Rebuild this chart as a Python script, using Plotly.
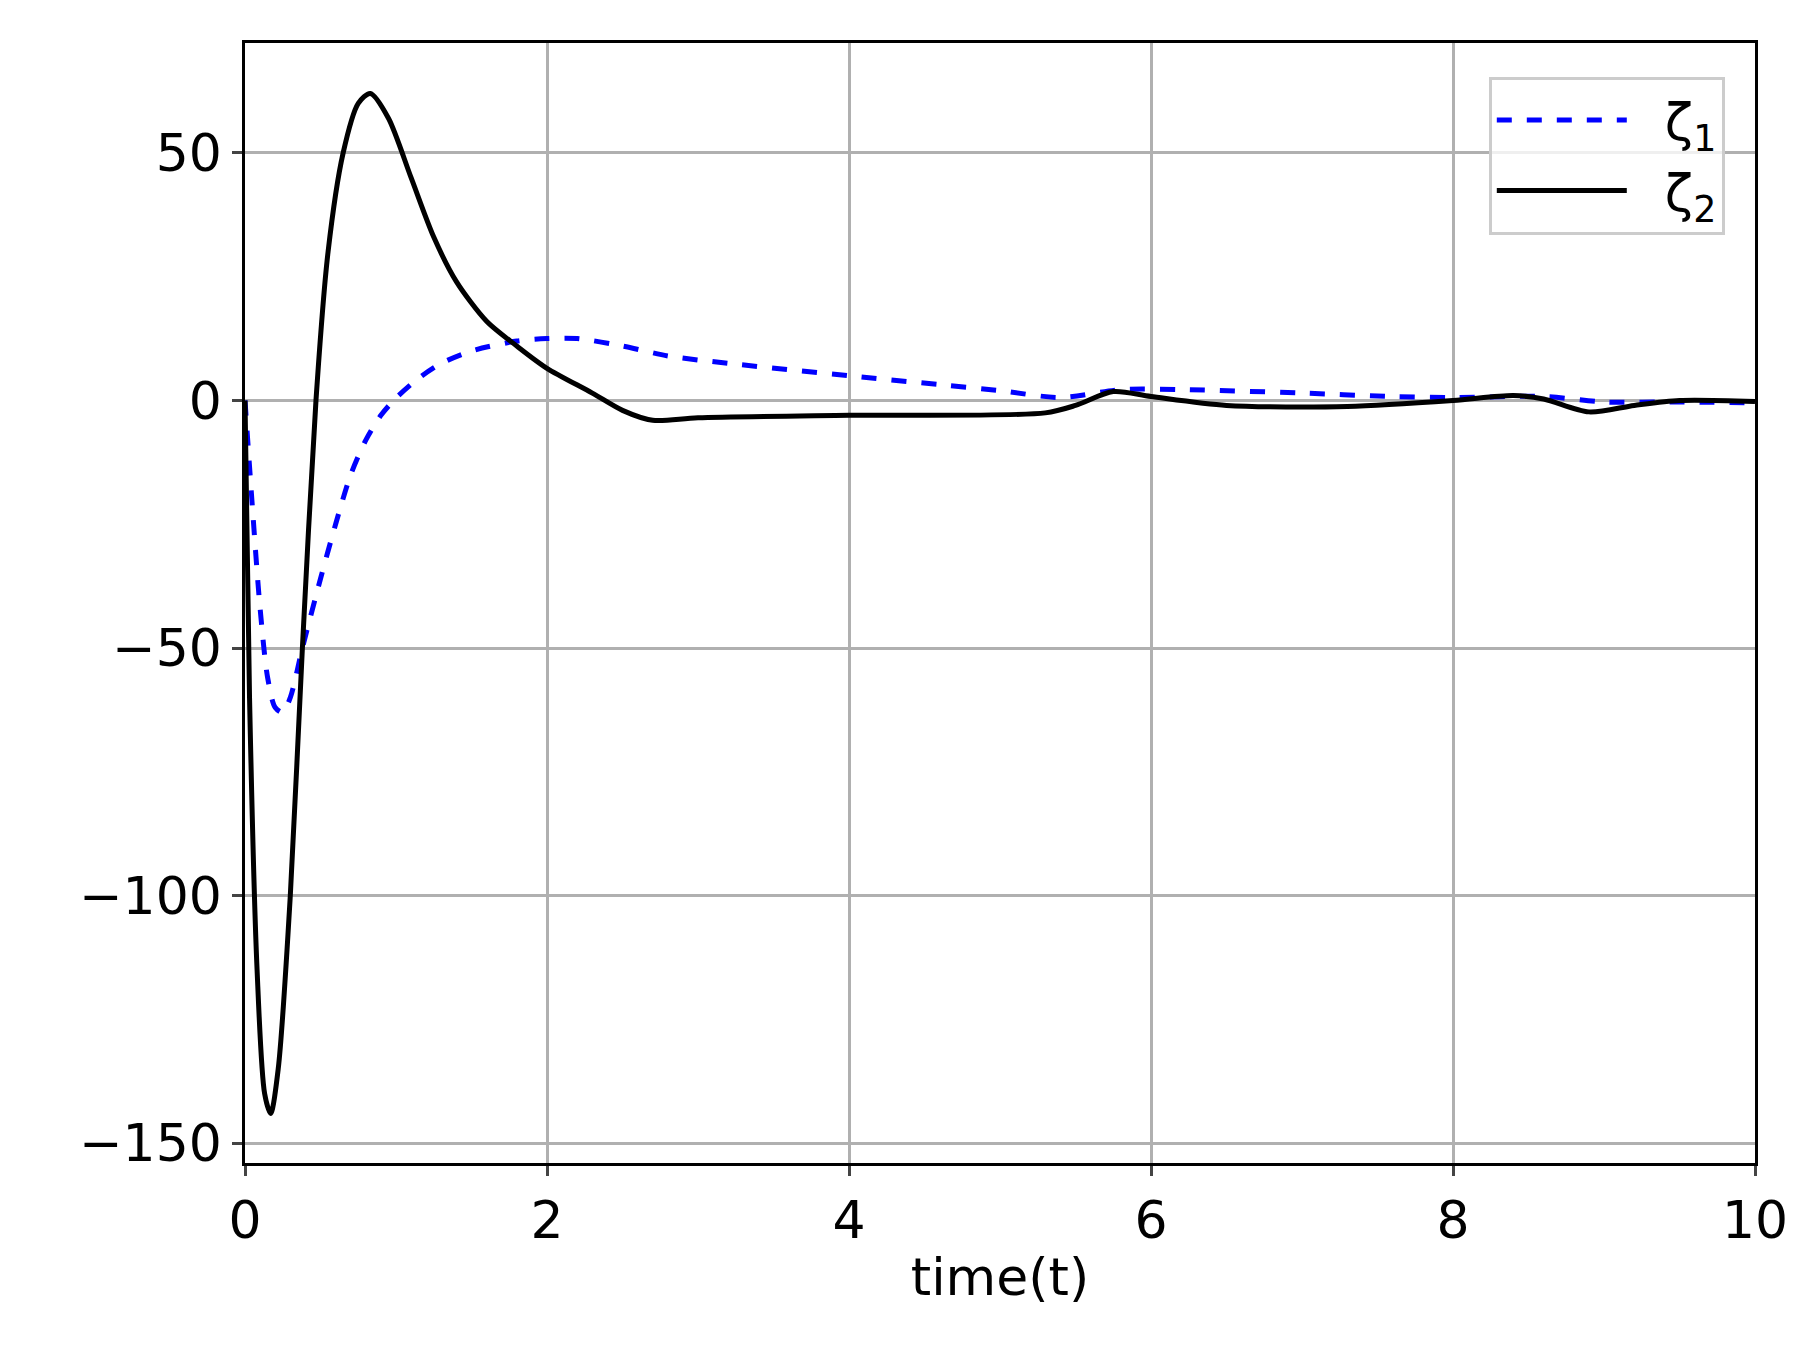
import plotly.graph_objects as go

t1 = [0, 0.05, 0.1, 0.15, 0.2, 0.25, 0.3, 0.38, 0.5, 0.6, 0.7, 0.8, 0.9, 1.0, 1.15, 1.3, 1.5, 1.8, 2.0, 2.2, 2.5, 2.8, 3.2, 4.0, 4.6, 5.0, 5.4, 5.8, 6.2, 7.0, 7.6, 8.0, 8.6, 9.0, 9.5, 10.0]
z1 = [0, -22, -42, -56, -62, -63, -60, -50, -36, -25, -15, -8, -3, 0.5, 4.5, 7.5, 10, 12, 12.5, 12.5, 11, 9, 7.5, 5, 3.2, 2, 0.6, 2.2, 2.2, 1.5, 0.8, 0.6, 0.8, -0.3, -0.3, -0.5]

t2 = [0, 0.03, 0.08, 0.13, 0.17, 0.22, 0.3, 0.38, 0.47, 0.55, 0.65, 0.75, 0.83, 0.95, 1.1, 1.25, 1.4, 1.6, 1.8, 2.0, 2.3, 2.5, 2.7, 3.0, 4.0, 5.3, 5.5, 5.75, 6.0, 6.5, 7.3, 8.0, 8.4, 8.6, 8.9, 9.2, 9.5, 10.0]
z2 = [0, -60, -115, -140, -144, -135, -100, -50, 0, 30, 50, 60, 62, 57, 45, 33, 24, 16, 11, 6.5, 1.5, -2, -4, -3.5, -3, -2.5, -1, 1.8, 0.8, -1, -1.2, 0, 1, 0.3, -2.3, -1, 0, -0.2]

fig = go.Figure()
fig.add_trace(go.Scatter(x=t1, y=z1, mode="lines", name="  ζ<sub>1</sub>",
                         line=dict(color="blue", width=5, dash="dash", shape="spline", smoothing=0.8)))
fig.add_trace(go.Scatter(x=t2, y=z2, mode="lines", name="  ζ<sub>2</sub>",
                         line=dict(color="black", width=5, shape="spline", smoothing=0.8)))

ax = dict(showgrid=True, gridcolor="#b0b0b0", gridwidth=2.5, showline=True, linecolor="black",
          linewidth=2.5, mirror=True, ticks="outside", ticklen=10, tickwidth=2.5, zeroline=False,
          tickfont=dict(size=52, color="black"))
fig.update_xaxes(**ax, range=[0, 10], dtick=2,
                 title=dict(text="time(t)", font=dict(size=52, color="black"), standoff=10))
fig.update_yaxes(**ax, range=[-154, 72.2], tickvals=[-150, -100, -50, 0, 50],
                 ticktext=["−150", "−100", "−50", "0", "50"])
fig.update_layout(width=1804, height=1350, plot_bgcolor="white", paper_bgcolor="white",
                  font=dict(family="DejaVu Sans", color="black"),
                  margin=dict(l=237, r=57, t=35, b=195),
                  legend=dict(x=0.98, y=0.97, xanchor="right", yanchor="top",
                              bgcolor="rgba(255,255,255,0.8)", bordercolor="#cccccc", borderwidth=3,
                              font=dict(size=52), itemwidth=130, tracegroupgap=10))
fig.write_html("out.html")
